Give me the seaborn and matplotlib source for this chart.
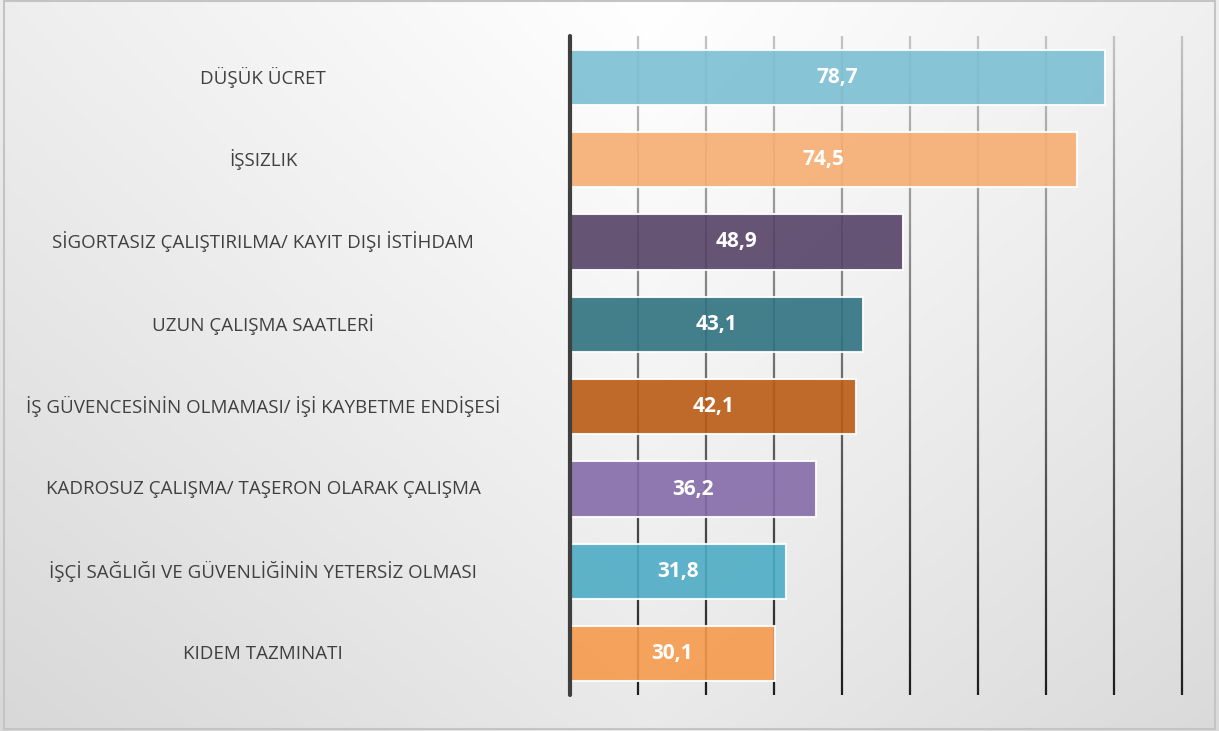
import numpy as np
import pandas as pd
import matplotlib
matplotlib.use('Agg')
import matplotlib.pyplot as plt
import matplotlib.transforms as mtransforms
from matplotlib.collections import LineCollection
from matplotlib.patches import Rectangle
import seaborn as sns

# data
categories = [
    "DÜŞÜK ÜCRET",
    "İŞSIZLIK",
    "SİGORTASIZ ÇALIŞTIRILMA/ KAYIT DIŞI İSTİHDAM",
    "UZUN ÇALIŞMA SAATLERİ",
    "İŞ GÜVENCESİNİN OLMAMASI/ İŞİ KAYBETME ENDİŞESİ",
    "KADROSUZ ÇALIŞMA/ TAŞERON OLARAK ÇALIŞMA",
    "İŞÇİ SAĞLIĞI VE GÜVENLİĞİNİN YETERSİZ OLMASI",
    "KIDEM TAZMINATI",
]
values = [78.7, 74.5, 48.9, 43.1, 42.1, 36.2, 31.8, 30.1]
bar_colors = ["#7ABFD3", "#F6AD71", "#564267", "#2F7280",
              "#BA5B15", "#846BA8", "#4DACC5", "#F69A4D"]
grid_ticks = [10, 20, 30, 40, 50, 60, 70, 80, 90]

df = pd.DataFrame({"kategori": categories, "deger": values})

sns.set_theme(style="white")
plt.rcParams['font.family'] = ['Open Sans', 'DejaVu Sans']

fig = plt.figure(figsize=(12.19, 7.31), dpi=100)

# background gradient (light at top centre, darker towards the bottom corners)
bg_ax = fig.add_axes([0, 0, 1, 1], zorder=-10)
H, W = 731, 1219
yy, xx = np.mgrid[0:H, 0:W]
shade = 255 - 16 * np.abs(xx - 650) / 600 - 22 * (yy / H) ** 1.1
shade = np.clip(shade, 0, 255) / 255.0
bg_ax.imshow(np.dstack([shade, shade, shade]), aspect='auto', extent=[0, 1, 0, 1])
bg_ax.set_axis_off()
fig.patches.append(Rectangle((0.0035, 0.003), 0.9935, 0.995, transform=fig.transFigure,
                             fill=False, edgecolor="#c4c4c4", linewidth=1.5))

ax = fig.add_axes([0.4676, 0.0492, 0.9697 - 0.4676, 0.9508 - 0.0492])
ax.set_facecolor("none")

sns.barplot(data=df, x="deger", y="kategori", hue="kategori", palette=bar_colors,
            saturation=1, legend=False, orient="h", width=0.67, ax=ax, zorder=3)
for p in ax.patches:
    p.set_alpha(0.9)
    p.set_edgecolor((1, 1, 1, 0.35))
    p.set_linewidth(1.5)

ax.set_xlim(0, 90)
ax.set_ylim(len(categories) - 0.5, -0.5)

# vertical grid lines fading from grey (top) to almost black (bottom)
n_seg = 60
ys = np.linspace(-0.5, len(categories) - 0.5, n_seg + 1)
for gx in grid_ticks:
    segs = [[(gx, ys[i]), (gx, ys[i + 1])] for i in range(n_seg)]
    t = np.linspace(0, 1, n_seg)
    g = 0.76 - 0.64 * t
    cols = np.column_stack([g, g, g, np.ones_like(g)])
    ax.add_collection(LineCollection(segs, colors=cols, linewidths=1.6, zorder=1,
                                     clip_on=False))

ax.axvline(0, color="#3f3f3f", linewidth=3, zorder=4, clip_on=False)

for s in ax.spines.values():
    s.set_visible(False)
ax.set_xticks([])
ax.set_yticks([])
ax.set_xlabel("")
ax.set_ylabel("")

# value labels in the middle of each bar
for i, v in enumerate(values):
    ax.text(v / 2, i, f"{v:.1f}".replace(".", ","), ha="center", va="center",
            color="white", fontsize=15, fontweight="bold", zorder=5)

# category labels centred in the left area
trans = mtransforms.blended_transform_factory(fig.transFigure, ax.transData)
for i, c in enumerate(categories):
    ax.text(0.216, i, c, transform=trans, ha="center", va="center",
            color="#404040", fontsize=13.5)

fig.savefig("out.png", dpi=100)
